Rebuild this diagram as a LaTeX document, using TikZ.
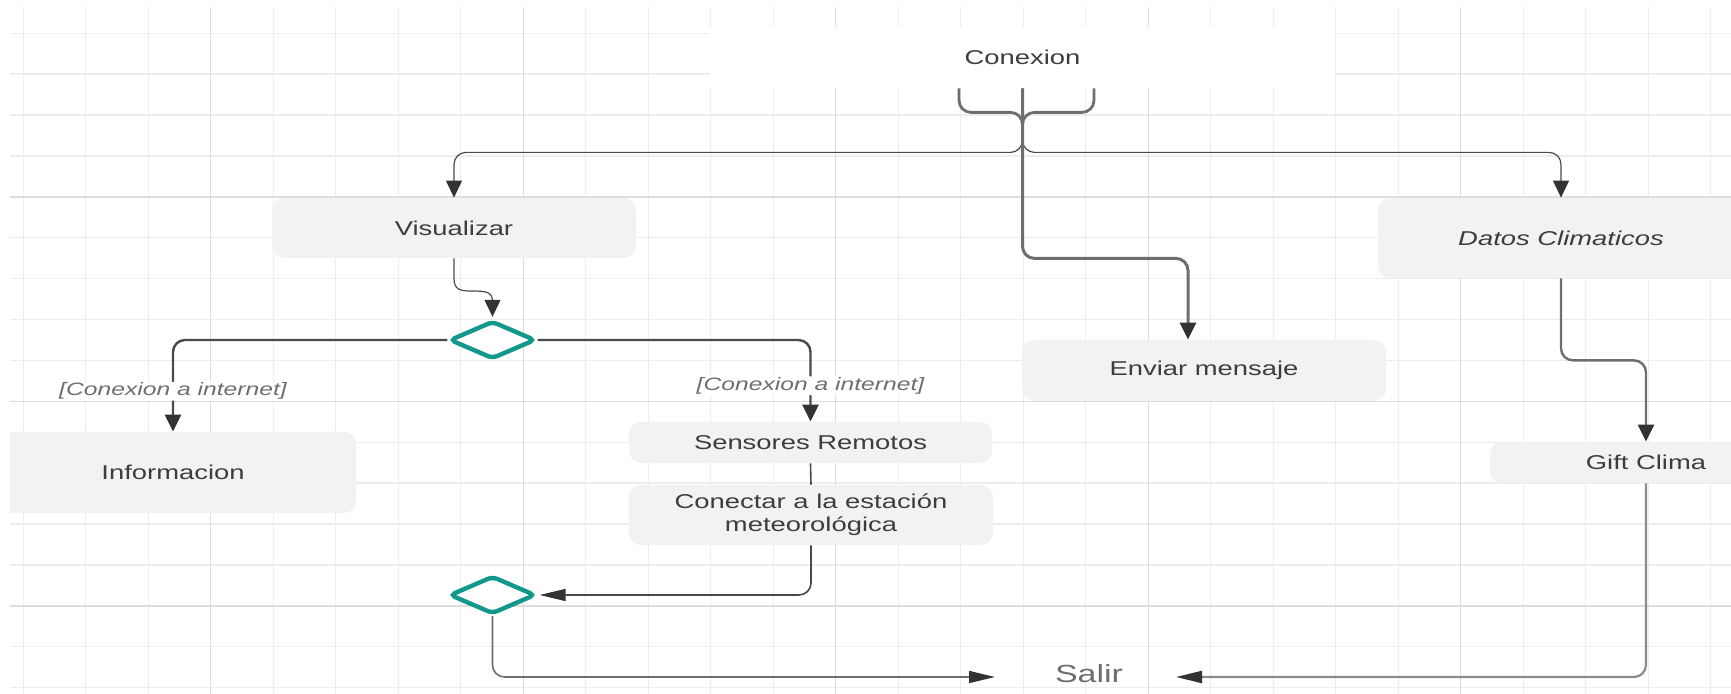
\documentclass[tikz,border=0pt]{standalone}
\usepackage{fontspec}
\setmainfont{Liberation Sans}[FakeStretch=1.37]
\usetikzlibrary{arrows.meta,shapes.geometric}

\definecolor{rejilla}{HTML}{EDEDED}
\definecolor{rejillaf}{HTML}{DDDDDD}
\definecolor{caja}{HTML}{F1F2F4}
\definecolor{texto}{HTML}{3D3D3D}
\definecolor{linea}{HTML}{4A4A4A}
\definecolor{lineac}{HTML}{6E6E6E}
\definecolor{punta}{HTML}{333333}
\definecolor{verde}{HTML}{10998A}

\tikzset{
  actividad/.style={fill=caja, rounded corners=6pt, text=texto, align=center,
    font=\fontsize{10}{11}\selectfont, inner sep=0pt},
  decision/.style={diamond, draw=verde, line width=2.2pt, fill=white,
    minimum width=43pt, minimum height=19pt, inner sep=0pt, rounded corners=2.5pt},
  guarda/.style={fill=white, inner sep=0.5pt, text=lineac,
    font=\itshape\fontsize{9}{10}\selectfont},
  conector/.style={draw=linea, line width=0.8pt, rounded corners=6pt},
  flecha/.style={conector, -{Triangle[length=8.5pt,width=8pt,color=punta]}},
  flechah/.style={conector, -{Triangle[length=13pt,width=6pt,color=punta]}},
}

\begin{document}
\begin{tikzpicture}[x=0.5pt, y=-0.5pt]
\useasboundingbox (0,0) rectangle (1731,694);

% Cuadricula de fondo
\foreach \i in {0,...,27}
  \draw[rejilla, line width=0.7pt] ({23.2+62.5*\i},7) -- ({23.2+62.5*\i},694);
\foreach \j in {0,...,16}
  \draw[rejilla, line width=0.7pt] (10,{33.3+40.9*\j}) -- (1731,{33.3+40.9*\j});
% lineas mas marcadas cada cinco
\foreach \i in {3,8,...,23}
  \draw[rejillaf, line width=0.7pt] ({23.2+62.5*\i},7) -- ({23.2+62.5*\i},694);
\foreach \j in {4,9,14}
  \draw[rejillaf, line width=0.7pt] (10,{33.3+40.9*\j}) -- (1731,{33.3+40.9*\j});

% Inicio
\node[fill=white, minimum width=312.5pt, minimum height=30.5pt, text=texto,
  font=\fontsize{10}{12}\selectfont] (conexion) at (1022.5,57.5) {Conexion};

% Actividades
\node[actividad, minimum width=182pt, minimum height=30pt] (visualizar) at (454,228) {Visualizar};
\node[actividad, minimum width=183pt, minimum height=40pt,
  font=\itshape\fontsize{10}{11}\selectfont] (datos) at (1561,238) {Datos Climaticos};
\node[actividad, minimum width=182pt, minimum height=30.5pt] (enviar) at (1204,370.5) {Enviar mensaje};
\node[actividad, minimum width=183pt, minimum height=40.5pt] (informacion) at (173,472.5) {Informacion};
\node[actividad, minimum width=181.5pt, minimum height=20.5pt] (sensores) at (810.5,442.5) {Sensores Remotos};
\node[actividad, minimum width=182pt, minimum height=30pt,
  font=\fontsize{10}{11.5}\selectfont] (conectar) at (811,515) {Conectar a la estación\\meteorológica};
\node[actividad, minimum width=156pt, minimum height=20.5pt] (gift) at (1646,462.5) {Gift Clima};

% margen blanco a la izquierda
\fill[white] (0,0) rectangle (10,694);

% Decisiones
\node[decision] (dec1) at (492.5,340) {};
\node[decision] (dec2) at (492.5,595) {};

% Final
\node[text=lineac, font=\fontsize{12.4}{14}\selectfont] (salir) at (1089,674) {Salir};
\coordinate (salirizq) at (995,677);
\coordinate (salirder) at (1176,677);

% Salidas de Conexion
\draw[conector, line width=1.4pt, draw=lineac] ([xshift=-31.75pt]conexion.south)
  |- ([yshift=-12pt]conexion.south) -- ++(0,20);
\draw[conector, line width=1.4pt, draw=lineac] ([xshift=35.75pt]conexion.south)
  |- ([yshift=-12pt]conexion.south) -- ++(0,20);
\draw[flecha, line width=0.6pt] (conexion.south) -- ++(0,64) -| (visualizar.north);
\draw[flecha, line width=0.6pt] (conexion.south) -- ++(0,64) -| (datos.north);
\draw[flecha, line width=1.5pt, draw=lineac] (conexion.south) -- ++(0,170) -| ([xshift=-8pt]enviar.north);

% Rama de Visualizar
\draw[flecha, line width=0.6pt, sharp corners, shorten >=1pt] (visualizar.south) -- (454,278)
  .. controls (454,289) and (459,291) .. (471,291)
  .. controls (487,291) and (492.5,292) .. (492.5,302) -- (dec1.north);
\draw[flecha, line width=1.2pt] (dec1.west) -| (informacion.north)
  node[guarda, pos=0.78] {[Conexion a internet]};
\draw[flecha, line width=1.2pt] (dec1.east) -| (sensores.north)
  node[guarda, pos=0.78] {[Conexion a internet]};
\draw[conector] (sensores.south) -- (conectar.north);
\draw[flechah, shorten >=1pt] (conectar.south) |- (dec2.east);
\draw[flechah, draw=lineac] (dec2.south) |- (salirizq);

% Rama de Datos Climaticos
\draw[flecha, line width=1.2pt, draw=lineac] (datos.south) -- ++(0,82) -| (gift.north);
\draw[flechah, line width=1.1pt, draw=lineac!80] (gift.south) |- (salirder);
\end{tikzpicture}
\end{document}
